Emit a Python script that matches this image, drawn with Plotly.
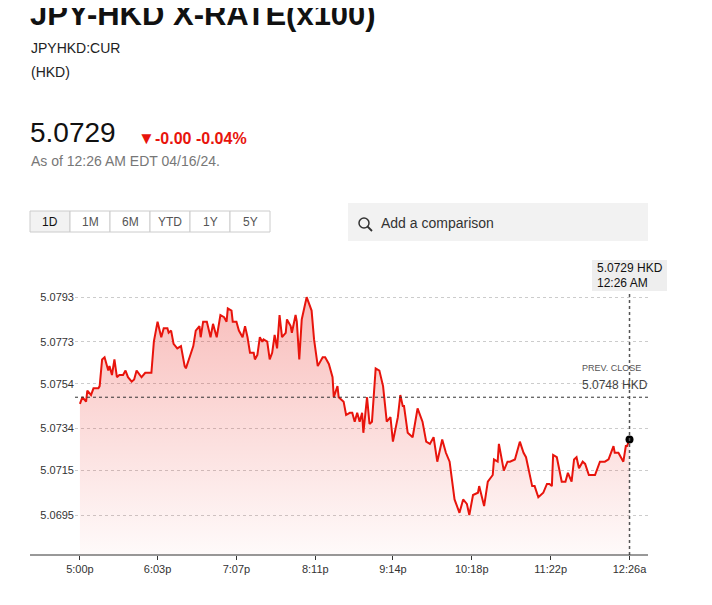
import plotly.graph_objects as go

minutes = [0,2,5,6,9,11,15,16,18,20,23,24,26,28,30,32,35,37,39,42,44,46,50,53,54,58,60,63,66,68,71,72,74,76,79,82,85,86,89,92,94,97,98,100,103,106,108,111,114,117,119,120,123,124,127,129,131,132,134,136,138,141,142,144,146,148,149,152,154,156,158,160,162,164,167,168,171,172,175,176,178,180,182,184,188,190,193,195,197,199,201,202,205,206,209,210,214,216,219,221,223,225,227,229,230,233,235,237,240,243,246,249,252,254,258,260,262,263,266,270,274,278,281,284,287,290,294,297,300,304,308,311,314,316,319,323,324,328,331,335,336,339,340,344,347,349,353,357,360,362,367,369,372,376,379,381,383,384,387,391,394,396,399,401,403,405,408,410,413,417,418,422,426,429,433,434,437,441,443,444,446]
values = [5.0745,5.0748,5.0746,5.0751,5.0749,5.0752,5.0752,5.0753,5.0765,5.0766,5.0760,5.0762,5.0758,5.0765,5.0757,5.0758,5.0758,5.0760,5.0757,5.0755,5.0756,5.0760,5.0757,5.0759,5.0759,5.0759,5.0773,5.0782,5.0775,5.0779,5.0779,5.0777,5.0778,5.0772,5.0770,5.0771,5.0762,5.0761,5.0766,5.0771,5.0778,5.0780,5.0775,5.0782,5.0782,5.0775,5.0781,5.0775,5.0785,5.0784,5.0782,5.0788,5.0787,5.0782,5.0782,5.0778,5.0776,5.0775,5.0780,5.0775,5.0768,5.0768,5.0765,5.0767,5.0775,5.0773,5.0774,5.0773,5.0765,5.0768,5.0776,5.0770,5.0785,5.0775,5.0777,5.0783,5.0780,5.0777,5.0785,5.0782,5.0765,5.0783,5.0788,5.0793,5.0787,5.0774,5.0762,5.0764,5.0766,5.0766,5.0764,5.0763,5.0757,5.0748,5.0753,5.0748,5.0746,5.0740,5.0741,5.0741,5.0737,5.0741,5.0737,5.0741,5.0732,5.0748,5.0736,5.0737,5.0761,5.0760,5.0753,5.0737,5.0739,5.0728,5.0739,5.0749,5.0744,5.0744,5.0732,5.0730,5.0743,5.0737,5.0728,5.0727,5.0730,5.0719,5.0729,5.0723,5.0719,5.0702,5.0696,5.0702,5.0700,5.0695,5.0704,5.0705,5.0708,5.0699,5.0710,5.0713,5.0720,5.0719,5.0727,5.0715,5.0719,5.0719,5.0720,5.0728,5.0723,5.0721,5.0708,5.0708,5.0703,5.0705,5.0709,5.0709,5.0708,5.0722,5.0721,5.0710,5.0710,5.0714,5.0710,5.0720,5.0721,5.0716,5.0719,5.0718,5.0713,5.0713,5.0713,5.0719,5.0719,5.0720,5.0726,5.0723,5.0723,5.0719,5.0726,5.0726,5.0729]
x_tick_vals = [0,63,127,191,254,318,382,446]
x_tick_text = ["5:00p","6:03p","7:07p","8:11p","9:14p","10:18p","11:22p","12:26a"]
y_tick_vals = [5.0695,5.0715,5.0734,5.0754,5.0773,5.0793]
prev_close = 5.0748
last_value = 5.0729
buttons = ["1D","1M","6M","YTD","1Y","5Y"]

OFF = 8  # page body margin
W, H = 712 - OFF, 605 - OFF
L, R, T, B = 75, 648, 255, 555
def px(x): return (x - L) / (R - L)
def py(y): return (B - y) / (B - T)

FONT = "Liberation Sans, Arial, sans-serif"
RED = "#e8140c"
ymin, ymax = 5.0677, 5.0812

fig = go.Figure()
fig.add_trace(go.Scatter(x=[minutes[0], minutes[-1]], y=[ymin, ymin], mode="lines",
                         line=dict(width=0), showlegend=False, hoverinfo="skip"))
fig.add_trace(go.Scatter(x=minutes, y=values, mode="lines", line=dict(color=RED, width=2),
                         fill="tonexty",
                         fillgradient=dict(type="vertical", colorscale=[[0, "rgba(232,20,12,0.02)"], [1, "rgba(232,20,12,0.28)"]]),
                         showlegend=False))
fig.add_trace(go.Scatter(x=[minutes[-1]], y=[last_value], mode="markers",
                         marker=dict(color="black", size=8), showlegend=False))

shapes = []
shapes.append(dict(type="line", xref="paper", yref="y", x0=0, x1=1, y0=prev_close, y1=prev_close,
                   line=dict(color="#333", width=1, dash="dot")))
shapes.append(dict(type="line", xref="x", yref="paper", x0=446, x1=446, y0=0, y1=py(262),
                   line=dict(color="#555", width=1.5, dash="dot")))
shapes.append(dict(type="line", xref="paper", yref="paper", x0=px(30), x1=1, y0=0, y1=0,
                   line=dict(color="#333", width=1)))
for i, b in enumerate(buttons):
    x0 = 30 + 40 * i
    shapes.append(dict(type="rect", xref="paper", yref="paper", x0=px(x0), x1=px(x0 + 40),
                       y0=py(232), y1=py(211), line=dict(color="#ccc", width=1),
                       fillcolor="#f2f2f2" if i == 0 else "white", layer="above"))
shapes.append(dict(type="rect", xref="paper", yref="paper", x0=px(348), x1=px(648), y0=py(241), y1=py(203),
                   line=dict(width=0), fillcolor="#f2f2f2"))
shapes.append(dict(type="circle", xref="paper", yref="paper", x0=px(359), x1=px(369), y0=py(228), y1=py(218),
                   line=dict(color="#333", width=1.5)))
shapes.append(dict(type="line", xref="paper", yref="paper", x0=px(367.5), x1=px(372), y0=py(226.5), y1=py(231),
                   line=dict(color="#333", width=1.8)))
shapes.append(dict(type="rect", xref="paper", yref="paper", x0=px(592), x1=px(667), y0=py(291), y1=py(260),
                   line=dict(width=0), fillcolor="#eeeeee"))

ann = []
def text(x, y, s, size, color="#111", anchor="left", family=FONT, yanchor="middle"):
    ann.append(dict(xref="paper", yref="paper", x=px(x), y=py(y), text=s, showarrow=False,
                    xanchor=anchor, yanchor=yanchor, font=dict(size=size, color=color, family=family)))

text(28, 14, "<b>JPY-HKD X-RATE(x100)</b>", 31)
text(29, 48, "JPYHKD:CUR", 14, "#222")
text(29, 72, "(HKD)", 14, "#222")
text(28, 132, "5.0729", 28, "#111")
text(136, 138, "▼", 17, RED)
text(153, 138, "<b>-0.00 -0.04%</b>", 16, RED)
text(29, 161, "As of 12:26 AM EDT 04/16/24.", 14, "#777")
for i, b in enumerate(buttons):
    text(50 + 40 * i, 222, b, 12, "#111" if i == 0 else "#555", anchor="center")
text(379, 223, "Add a comparison", 14, "#333")
text(595, 268, "5.0729 HKD", 12, "#111")
text(595, 283, "12:26 AM", 12, "#111")
text(580, 368, "PREV. CLOSE", 9, "#555")
text(580, 385, "5.0748 HKD", 12, "#444")

fig.update_layout(
    width=W, height=H, margin=dict(l=L - OFF, r=712 - R, t=T - OFF, b=605 - B),
    paper_bgcolor="white", plot_bgcolor="white",
    shapes=shapes, annotations=ann, showlegend=False,
    font=dict(family=FONT),
    xaxis=dict(range=[-4, 461], tickvals=x_tick_vals, ticktext=x_tick_text, showgrid=False,
               zeroline=False, ticks="outside", ticklen=4, tickcolor="#333",
               tickfont=dict(size=11, color="#333")),
    yaxis=dict(range=[ymin, ymax], tickvals=y_tick_vals, tickformat=".4f",
               showgrid=True, gridcolor="#cccccc", griddash="dot", zeroline=False,
               ticks="", tickfont=dict(size=11, color="#333")),
)
fig.write_html("out.html")
